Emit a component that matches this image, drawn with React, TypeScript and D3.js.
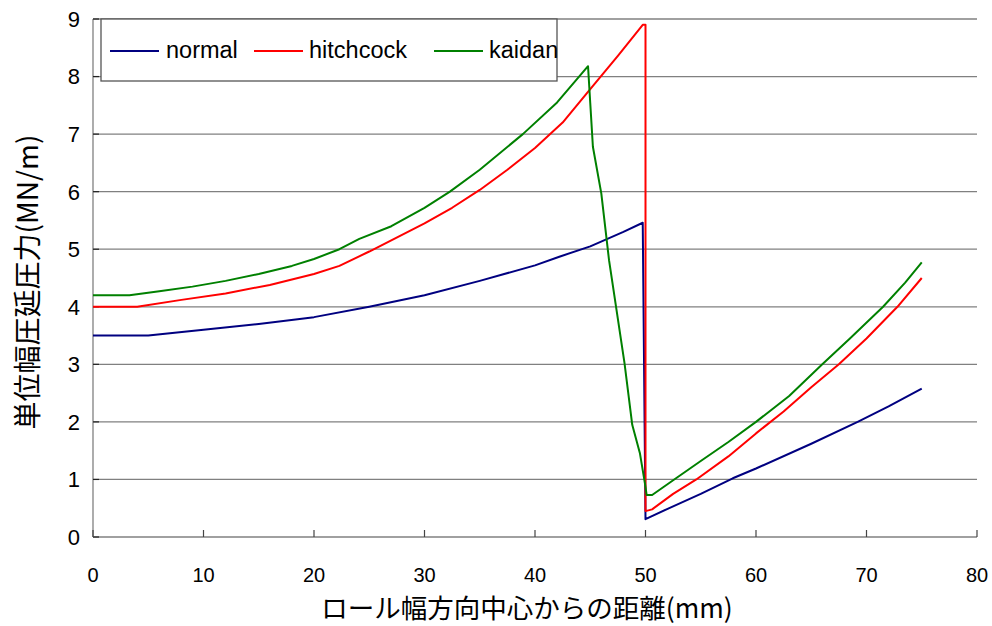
import React from "react";
import * as d3 from "d3";

// Distance from the roll centre (mm) and unit-width rolling force (MN/m)
const normalX = [0, 5, 10, 15, 20, 25, 30, 35, 40, 42.2, 45, 48, 49.75, 50.0, 52, 55, 57.9, 60, 65, 69.2, 72, 75];
const normalY = [3.5, 3.5, 3.6, 3.7, 3.82, 4.0, 4.2, 4.45, 4.72, 4.87, 5.05, 5.3, 5.46, 0.31, 0.49, 0.75, 1.02, 1.19, 1.62, 2.0, 2.27, 2.58];

const hitchX = [0, 4, 8, 12, 16, 20, 22.3, 25, 30, 32.5, 35, 37.5, 40, 42.5, 45, 47.5, 49.75, 50.0, 50.0, 50.6, 52.5, 54.6, 57.5, 60, 62.5, 65, 67.5, 70, 72.8, 75];
const hitchY = [4.0, 4.0, 4.12, 4.23, 4.38, 4.57, 4.71, 4.96, 5.45, 5.72, 6.03, 6.38, 6.76, 7.2, 7.78, 8.36, 8.9, 8.9, 0.45, 0.48, 0.75, 1.0, 1.4, 1.8, 2.18, 2.6, 3.0, 3.45, 4.0, 4.5];

const kaidanX = [0, 3.3, 6, 9, 12, 15, 18, 20, 22.3, 24.1, 27, 30, 32.3, 35, 38.9, 42, 44.8, 45.0, 45.24, 46.0, 46.7, 48.1, 48.8, 49.5, 50.0, 50.1, 50.6, 52.6, 55, 57.5, 60, 63, 66, 68.5, 71.5, 73.5, 75];
const kaidanY = [4.2, 4.2, 4.27, 4.35, 4.45, 4.57, 4.71, 4.83, 5.0, 5.18, 5.4, 5.72, 6.0, 6.38, 7.0, 7.55, 8.18, 7.54, 6.78, 5.97, 4.81, 3.02, 1.95, 1.45, 0.87, 0.73, 0.73, 1.0, 1.32, 1.65, 2.0, 2.45, 3.0, 3.45, 4.0, 4.42, 4.77];

const seriesNames = ["normal", "hitchcock", "kaidan"];
const seriesColors = ["#000080", "#ff0000", "#008000"];

const xTicks = [0, 10, 20, 30, 40, 50, 60, 70, 80];
const yTicks = [0, 1, 2, 3, 4, 5, 6, 7, 8, 9];

const xTitle = "ロール幅方向中心からの距離(mm)";
const yTitle = "単位幅圧延圧力(MN/m)";

const W = 992;
const H = 626;
const left = 93;
const right = 977;
const top = 19;
const bottom = 537;

export default function App() {
  const x = d3.scaleLinear().domain([0, 80]).range([left, right]);
  const y = d3.scaleLinear().domain([0, 9]).range([bottom, top]);

  const series = [
    normalX.map((v, i) => [v, normalY[i]] as [number, number]),
    hitchX.map((v, i) => [v, hitchY[i]] as [number, number]),
    kaidanX.map((v, i) => [v, kaidanY[i]] as [number, number]),
  ];

  const line = d3
    .line<[number, number]>()
    .x((d) => x(d[0]))
    .y((d) => y(d[1]));

  const latin = "'Liberation Sans', Arial, sans-serif";
  const cjk = "'Noto Sans CJK JP', 'Liberation Sans', sans-serif";

  const legendX = 101;
  const legendY = 19;
  const legendItems = [
    { x1: 110, x2: 159, tx: 166 },
    { x1: 254, x2: 303, tx: 309 },
    { x1: 434, x2: 483, tx: 489 },
  ];

  return (
    <svg
      width={W}
      height={H}
      style={{ position: "absolute", left: 0, top: 0, background: "#fff" }}
    >
      <rect x={0} y={0} width={W} height={H} fill="#fff" />

      {/* horizontal gridlines */}
      {yTicks
        .filter((t) => t > 0)
        .map((t) => (
          <line
            key={"g" + t}
            x1={left}
            x2={right}
            y1={y(t)}
            y2={y(t)}
            stroke="#808080"
            strokeWidth={1.3}
          />
        ))}

      {/* axes */}
      <line x1={left} x2={left} y1={top} y2={bottom} stroke="#808080" strokeWidth={1.3} />
      <line x1={left} x2={right} y1={bottom} y2={bottom} stroke="#808080" strokeWidth={1.3} />
      {yTicks.map((t) => (
        <line key={"yt" + t} x1={left} x2={left + 6} y1={y(t)} y2={y(t)} stroke="#222" strokeWidth={1.2} />
      ))}
      {xTicks.map((t) => (
        <line key={"xt" + t} x1={x(t)} x2={x(t)} y1={bottom} y2={bottom - 7} stroke="#444" strokeWidth={1.2} />
      ))}

      {/* tick labels */}
      {yTicks.map((t) => (
        <text
          key={"yl" + t}
          x={80}
          y={y(t)}
          dy="0.36em"
          textAnchor="end"
          fontFamily={latin}
          fontSize={22}
          fill="#000"
        >
          {t}
        </text>
      ))}
      {xTicks.map((t) => (
        <text
          key={"xl" + t}
          x={x(t)}
          y={575}
          dy="0.36em"
          textAnchor="middle"
          fontFamily={latin}
          fontSize={20}
          fill="#000"
        >
          {t}
        </text>
      ))}

      {/* series */}
      {series.map((s, i) => (
        <path
          key={seriesNames[i]}
          d={line(s) ?? ""}
          fill="none"
          stroke={seriesColors[i]}
          strokeWidth={2}
          strokeLinejoin="round"
        />
      ))}

      {/* legend */}
      <rect
        x={legendX}
        y={legendY}
        width={456}
        height={62}
        fill="#fff"
        stroke="#555"
        strokeWidth={1.3}
      />
      {legendItems.map((it, i) => (
        <g key={"lg" + i}>
          <line x1={it.x1} x2={it.x2} y1={51} y2={51} stroke={seriesColors[i]} strokeWidth={2} />
          <text x={it.tx} y={58} fontFamily={latin} fontSize={23.5} fill="#000">
            {seriesNames[i]}
          </text>
        </g>
      ))}

      {/* axis titles */}
      <text
        x={(left + right) / 2 - 8}
        y={618}
        textAnchor="middle"
        fontFamily={cjk}
        fontSize={26.5}
        fill="#000"
      >
        {xTitle}
      </text>
      <text
        transform={`translate(28,${(top + bottom) / 2 + 4}) rotate(-90)`}
        dy="0.36em"
        textAnchor="middle"
        fontFamily={cjk}
        fontSize={28}
        fill="#000"
      >
        {yTitle}
      </text>
    </svg>
  );
}
